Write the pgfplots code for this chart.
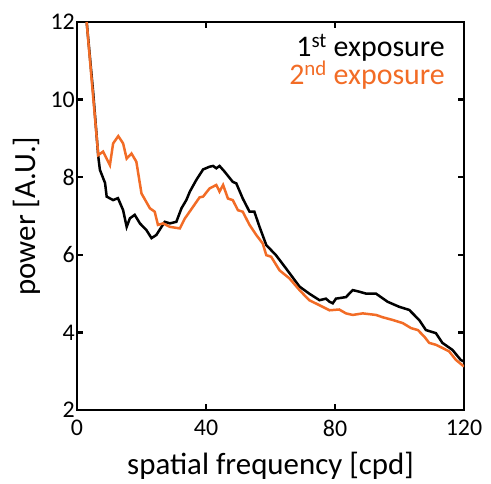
\documentclass[border=0pt]{standalone}
\usepackage{pgfplots}
\pgfplotsset{compat=1.18}
\usepackage{fontspec}
\setmainfont{Carlito}
\definecolor{myorange}{RGB}{242,108,38}
\begin{document}
\begin{tikzpicture}[x=1bp,y=1bp]
\begin{axis}[
  scale only axis,
  width=387bp, height=388bp,
  xmin=0, xmax=120, ymin=2, ymax=12,
  xtick={0,40,80,120}, ytick={2,4,6,8,10,12},
  tick align=inside,
  major tick length=6bp,
  axis line style={line width=2.4bp},
  tick style={line width=2.2bp, black},
  /pgf/number format/assume math mode=true,
  tick label style={font=\fontsize{24}{28}\selectfont},
  yticklabel style={inner sep=2bp},
  xticklabel style={inner sep=2bp, yshift=-8bp},
  label style={font=\fontsize{31}{36}\selectfont},
  xlabel={spatial frequency [cpd]},
  ylabel={power [A.U.]},
  xlabel style={at={(axis description cs:0.5,-0.165)}, anchor=base},
  ylabel style={at={(axis description cs:-0.129,0.5)}, anchor=center},
  clip=true,
]
\addplot[black, line width=2.5bp] coordinates {
(3,12) (5,10.2) (6.6,8.53) (7.1,8.19) (8.7,7.85) (9.2,7.5) (11.2,7.41) (12.7,7.46)
(14.3,7.15) (15.4,6.72) (16.4,6.94) (17.9,7.03) (19.5,6.81) (21.5,6.64) (23.1,6.43)
(24.6,6.51) (27.2,6.85) (28.8,6.81) (30.8,6.85) (32.4,7.2) (33.9,7.41) (35,7.63)
(37,7.93) (39.1,8.2) (41.1,8.27) (42.2,8.29) (43.2,8.23) (44.2,8.29) (45.8,8.14)
(48.3,7.88) (49.4,7.84) (51.4,7.45) (53.5,7.11) (55,7.11) (56.6,6.72) (58.7,6.25)
(61.7,5.99) (64.8,5.65) (69,5.18) (72,5.0) (75.2,4.83) (77.2,4.87) (78.3,4.79)
(79.3,4.75) (80.3,4.87) (83.4,4.91) (85.5,5.09) (87.5,5.05) (89.6,5.0) (92.7,5.0)
(96.3,4.79) (99.9,4.66) (103,4.58) (106.1,4.32) (108.2,4.06) (111.3,3.98)
(113.3,3.73) (116.4,3.55) (119,3.29) (120,3.25)
};
\addplot[myorange, line width=2.5bp] coordinates {
(3,12) (5,10.08) (6.6,8.57) (8.1,8.66) (10.2,8.31) (11.2,8.87) (12.8,9.06)
(14.3,8.87) (15.4,8.48) (16.9,8.61) (18.4,8.40) (20,7.58) (22.6,7.20) (24.1,7.11)
(25.1,6.77) (26.7,6.81) (28.8,6.72) (31.9,6.68) (33.4,6.93) (36,7.24) (38,7.48)
(39.1,7.5) (41.1,7.71) (43.2,7.80) (44.2,7.63) (45.3,7.80) (46.8,7.45) (48.3,7.41)
(49.9,7.15) (51.4,7.11) (53.5,6.77) (55.6,6.51) (57.6,6.29) (58.7,5.99) (60.2,5.95)
(62.8,5.60) (65.9,5.39) (69,5.09) (72,4.83) (75.2,4.70) (78.3,4.57) (81.3,4.59)
(83.4,4.49) (85.5,4.45) (88.6,4.49) (92.7,4.45) (94.8,4.39) (97.9,4.32) (101,4.24)
(103.6,4.11) (105.7,4.06) (107.7,3.89) (109.2,3.73) (111.3,3.68) (113.3,3.60)
(115.4,3.51) (117.5,3.29) (120,3.12)
};
\node[anchor=base east, inner sep=0pt, font=\fontsize{30}{34}\selectfont]
  at (axis description cs:0.951,0.910) {1\textsuperscript{st} exposure};
\node[anchor=base east, inner sep=0pt, font=\fontsize{30}{34}\selectfont, text=myorange]
  at (axis description cs:0.951,0.840) {2\textsuperscript{nd} exposure};
\end{axis}
\pgfresetboundingbox
\path[use as bounding box] (-77bp,-74bp) rectangle (414bp,410bp);
\end{tikzpicture}
\end{document}
